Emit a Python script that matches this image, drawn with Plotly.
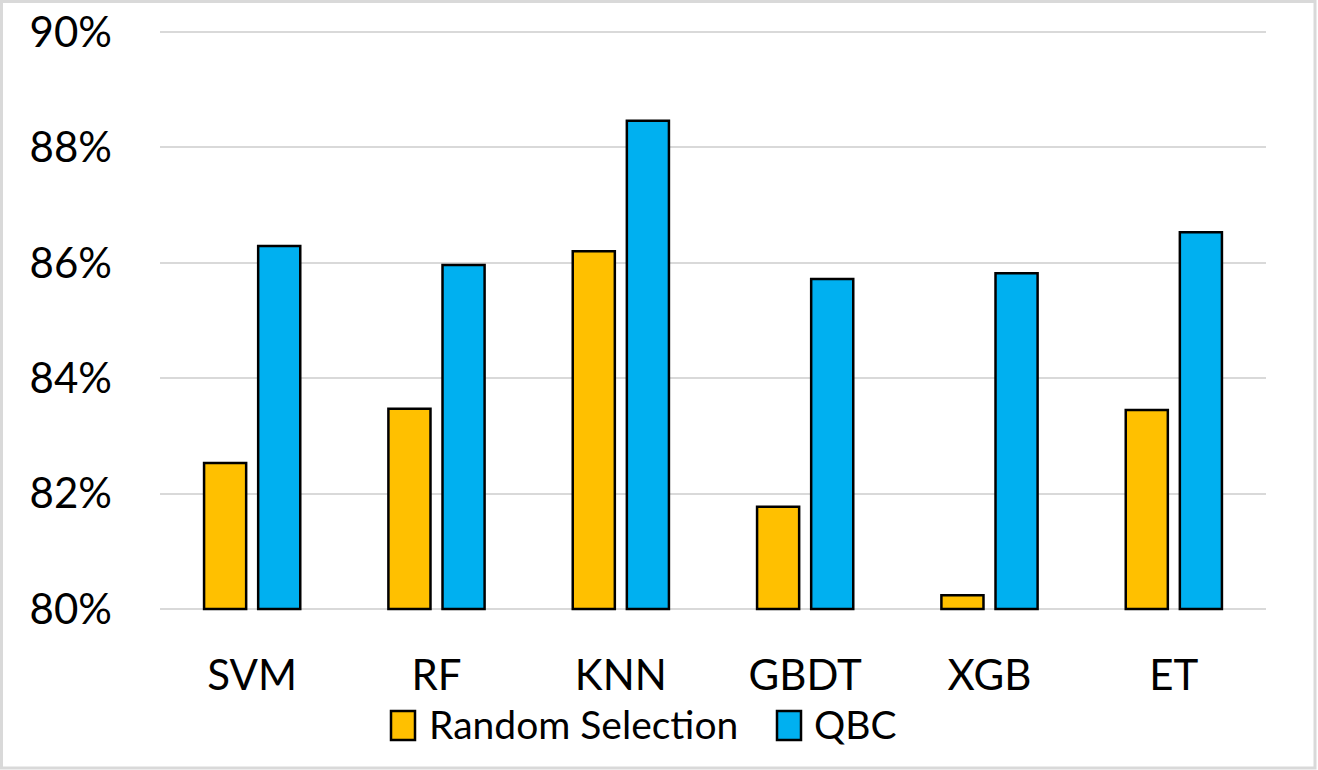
import plotly.graph_objects as go

categories = ["SVM", "RF", "KNN", "GBDT", "XGB", "ET"]
random_selection = [82.53, 83.47, 86.20, 81.77, 80.24, 83.45]
qbc = [86.29, 85.96, 88.46, 85.72, 85.82, 86.53]
series_names = ["Random Selection", "QBC"]
y_ticks = [80, 82, 84, 86, 88, 90]

W, H = 1318, 770
ML, MR, MT, MB = 160, 52, 30, 159
PW, PH = W - ML - MR, H - MT - MB
FONT = "Lato"
FS = 42
LFS = 39
colors = ["#FFC000", "#00B0F0"]

# pad the value range by 2px on each side so that the 80% / 90% gridlines are drawn
pad = 2 * 10 / (PH - 4)
y_range = [80 - pad, 90 + pad]


def px_x(x):
    return (x - ML) / PW


def px_y(y):
    return (H - MB - y) / PH


fig = go.Figure()
for name, vals, col in zip(series_names, [random_selection, qbc], colors):
    fig.add_trace(go.Bar(
        x=categories, y=[v - 80 for v in vals], base=80, name=name,
        marker=dict(color=col, line=dict(color="black", width=2.5)),
        showlegend=False,
    ))

fig.update_layout(
    width=W, height=H,
    margin=dict(l=ML, r=MR, t=MT, b=MB, pad=0, autoexpand=False),
    paper_bgcolor="white", plot_bgcolor="white",
    barmode="group", bargap=0.413, bargroupgap=0.222,
    font=dict(family=FONT, size=FS, color="black"),
)
fig.update_yaxes(
    range=y_range, tickvals=y_ticks, ticktext=[f"{t}%" for t in y_ticks],
    showgrid=True, gridcolor="#D9D9D9", gridwidth=2, zeroline=False,
    showline=False, ticks="", ticklabelstandoff=47, automargin=False,
)
fig.update_xaxes(showgrid=False, showline=False, ticks="", ticklabelstandoff=36,
                 automargin=False)

# Border around chart area
fig.add_shape(type="rect", xref="paper", yref="paper",
              x0=px_x(1.5), x1=px_x(W - 3), y0=px_y(H - 2), y1=px_y(1.5),
              line=dict(color="#D9D9D9", width=3), fillcolor="rgba(0,0,0,0)")

# Legend (manual, larger keys)
legend_pos = [(391, 427), (777, 812)]
for (sx, tx), name, col in zip(legend_pos, series_names, colors):
    fig.add_shape(type="rect", xref="paper", yref="paper",
                  x0=px_x(sx), x1=px_x(sx + 24), y0=px_y(740), y1=px_y(711),
                  line=dict(color="black", width=2.5), fillcolor=col)
    fig.add_annotation(xref="paper", yref="paper", x=px_x(tx), y=px_y(724),
                       text=name, showarrow=False, xanchor="left", yanchor="middle",
                       font=dict(family=FONT, size=LFS, color="black"))

fig.write_html("out.html", config={"displayModeBar": False},
               post_script="document.body.style.margin='0';")
